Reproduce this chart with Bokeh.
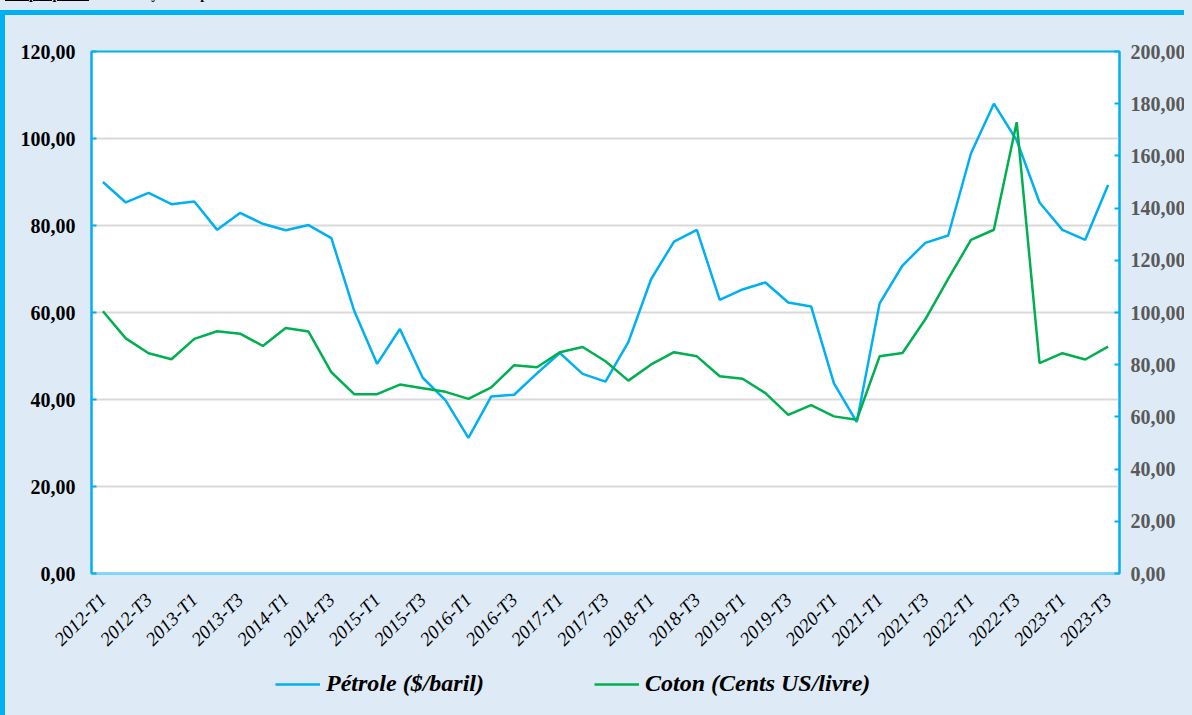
import math
from bokeh.plotting import figure
from bokeh.models import (Range1d, LinearAxis, FixedTicker, CustomJSTickFormatter,
                          Legend, LegendItem, Div, ColumnDataSource)
from bokeh.layouts import column
from bokeh.embed import file_html
from bokeh.resources import INLINE

# ---------------- data ----------------
quarters = [
    "2012-T1", "2012-T2", "2012-T3", "2012-T4",
    "2013-T1", "2013-T2", "2013-T3", "2013-T4",
    "2014-T1", "2014-T2", "2014-T3", "2014-T4",
    "2015-T1", "2015-T2", "2015-T3", "2015-T4",
    "2016-T1", "2016-T2", "2016-T3", "2016-T4",
    "2017-T1", "2017-T2", "2017-T3", "2017-T4",
    "2018-T1", "2018-T2", "2018-T3", "2018-T4",
    "2019-T1", "2019-T2", "2019-T3", "2019-T4",
    "2020-T1", "2020-T2",
    "2021-T1", "2021-T2", "2021-T3", "2021-T4",
    "2022-T1", "2022-T2", "2022-T3", "2022-T4",
    "2023-T1", "2023-T2", "2023-T3",
]
petrole = [90.0, 85.3, 87.5, 84.9, 85.5, 79.0, 82.9, 80.4, 78.9, 80.1, 77.1,
           60.4, 48.2, 56.2, 45.0, 39.8, 31.2, 40.7, 41.1, 46.0, 50.7, 45.9, 44.1,
           53.2, 67.7, 76.3, 79.0, 62.9, 65.3, 66.9, 62.3, 61.4, 43.7, 34.8,
           62.1, 70.8, 76.0, 77.7, 96.6, 108.0, 99.6, 85.3, 79.0, 76.7, 89.3]
coton = [100.5, 90.1, 84.4, 82.1, 89.9, 92.8, 91.9, 87.2, 94.1, 92.7, 77.1,
         68.7, 68.7, 72.4, 71.0, 69.6, 66.9, 71.3, 79.8, 79.0, 84.8, 86.8, 81.3,
         73.9, 80.1, 84.8, 83.2, 75.6, 74.6, 69.1, 60.8, 64.5, 60.2, 58.9,
         83.2, 84.5, 97.4, 112.9, 127.8, 131.7, 172.9, 80.6, 84.4, 82.0, 86.9]
left_ticks = [0, 20, 40, 60, 80, 100, 120]
right_ticks = [0, 20, 40, 60, 80, 100, 120, 140, 160, 180, 200]
series_names = ["Pétrole ($/baril)", "Coton (Cents US/livre)"]
title_lead = "Graphique 1 :"
title_rest = " Cours moyens du pétrole et du coton du 1er trimestre 2012 au 3ème trimestre 2023"

# ---------------- style ----------------
FONT = "Liberation Serif"
BLUE = "#00B0F0"
GREEN = "#00B050"
BG = "#DEEAF6"

idx = list(range(len(quarters)))
src = ColumnDataSource(dict(x=idx, q=quarters, petrole=petrole, coton=coton))

p = figure(width=1184, height=646, output_backend="svg", toolbar_location=None,
           x_range=Range1d(-0.5, len(quarters) - 0.5), y_range=Range1d(0, 120),
           min_border_left=86, min_border_right=70, min_border_top=36,
           min_border_bottom=88,
           background_fill_color="white", border_fill_color=BG,
           outline_line_color=BLUE, outline_line_width=2,
           styles={"border-left": f"5px solid {BLUE}", "border-top": f"5px solid {BLUE}"})
p.extra_y_ranges = {"r": Range1d(0, 200)}

fmt = CustomJSTickFormatter(code="return tick.toFixed(2).replace('.', ',');")

# grid
p.xgrid.visible = False
p.ygrid.ticker = FixedTicker(ticks=left_ticks)
p.ygrid.grid_line_color = "#D9D9D9"
p.ygrid.grid_line_width = 2

# x axis
xa = p.xaxis[0]
xa.ticker = FixedTicker(ticks=idx[::2])
xa.major_label_overrides = {i: quarters[i] for i in idx[::2]}
xa.major_label_orientation = math.pi / 4
xa.major_label_text_font = FONT
xa.major_label_text_font_style = "italic"
xa.major_label_text_font_size = "19px"
xa.major_label_text_color = "black"
xa.axis_line_color = "#8DD6F5"
xa.axis_line_width = 2
xa.major_tick_line_color = None
xa.minor_tick_line_color = None
xa.major_label_standoff = 17

# left axis
ya = p.yaxis[0]
ya.ticker = FixedTicker(ticks=left_ticks)
ya.formatter = fmt
ya.major_label_text_font = FONT
ya.major_label_text_font_style = "bold"
ya.major_label_text_font_size = "20px"
ya.major_label_text_color = "black"
ya.axis_line_color = BLUE
ya.axis_line_width = 2
ya.major_tick_line_color = BLUE
ya.major_tick_line_width = 2
ya.major_tick_in = 5
ya.major_tick_out = 0
ya.minor_tick_line_color = None
ya.major_label_standoff = 16

# right axis
ra = LinearAxis(y_range_name="r", ticker=FixedTicker(ticks=right_ticks), formatter=fmt)
ra.major_label_text_font = FONT
ra.major_label_text_font_style = "bold"
ra.major_label_text_font_size = "20px"
ra.major_label_text_color = "#595959"
ra.axis_line_color = BLUE
ra.axis_line_width = 2
ra.major_tick_line_color = BLUE
ra.major_tick_line_width = 2
ra.major_tick_in = 5
ra.major_tick_out = 0
ra.minor_tick_line_color = None
ra.major_label_standoff = 11
p.add_layout(ra, "right")

# lines
p.line("x", "petrole", source=src, line_color=BLUE, line_width=2.5)
p.line("x", "coton", source=src, line_color=GREEN, line_width=2.5, y_range_name="r")

# legend strip (separate small figure, same background); the proxy lines
# lie outside its ranges so that only their legend swatches are seen
lg = figure(width=1184, height=61, output_backend="svg", toolbar_location=None,
            x_axis_type=None, y_axis_type=None,
            x_range=Range1d(0, 1), y_range=Range1d(0, 1),
            min_border=0, outline_line_color=None,
            background_fill_color=BG, border_fill_color=BG,
            styles={"border-left": f"5px solid {BLUE}"})
lg.grid.visible = False
d1 = lg.line(x=[-2, -1], y=[-2, -2], line_color=BLUE, line_width=2.5)
d2 = lg.line(x=[-2, -1], y=[-2, -2], line_color=GREEN, line_width=2.5)
legend = Legend(items=[LegendItem(label=series_names[0], renderers=[d1]),
                       LegendItem(label=series_names[1], renderers=[d2])],
                orientation="horizontal", location=(184, 20),
                border_line_color=None, background_fill_alpha=0,
                label_text_font=FONT, label_text_font_style="bold italic",
                label_text_font_size="24px", label_text_color="black",
                glyph_width=45, glyph_height=20, spacing=110, label_standoff=6,
                padding=0, margin=0)
lg.add_layout(legend, "center")

title = Div(text=(f'<div style="position:relative; top:-19px; white-space:nowrap; '
                  f'font-family:\'{FONT}\'; font-weight:bold; font-size:14px; line-height:17px; color:black;">'
                  f'<span style="text-decoration:underline;">{title_lead}</span>{title_rest}</div>'),
            width=1184, height=0, styles={"overflow": "visible"})

layout = column(title, p, lg, spacing=0, styles={"background-color": BG})

open("out.html", "w").write(file_html(layout, INLINE))
